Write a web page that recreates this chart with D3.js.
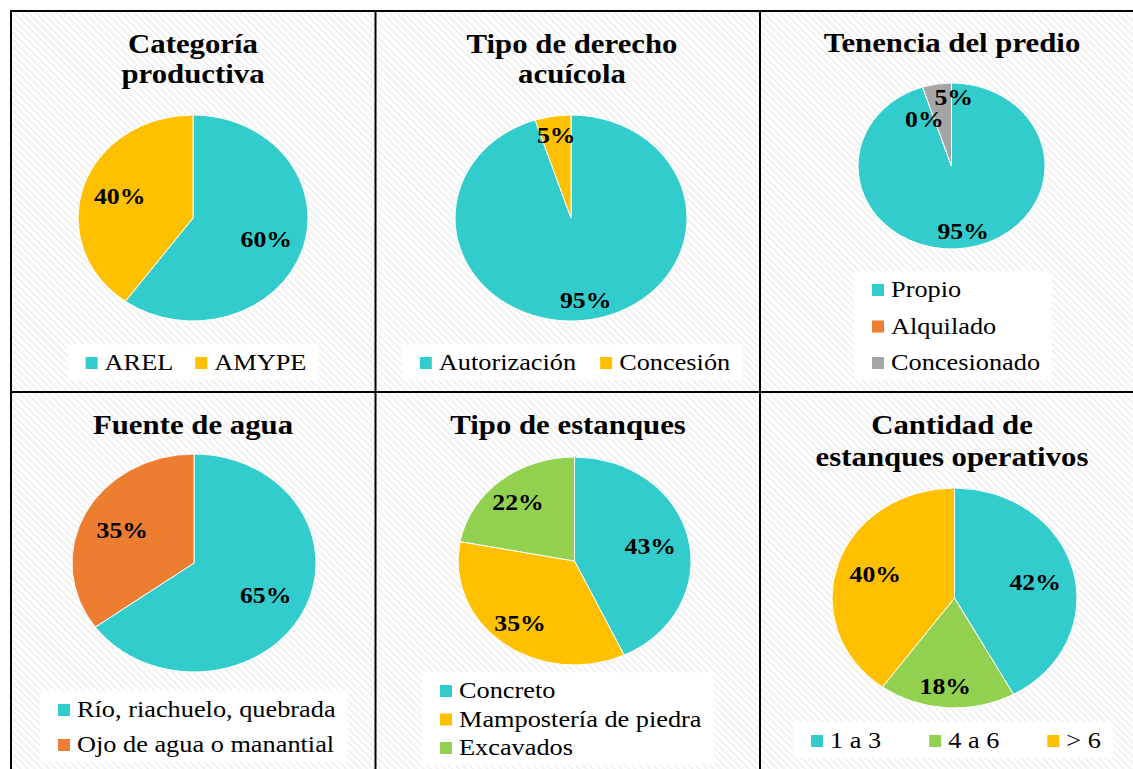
<!DOCTYPE html>
<html>
<head>
<meta charset="utf-8">
<script src="https://cdn.jsdelivr.net/npm/d3@7"></script>
<style>
  body { margin: 0; background: #fff; }
</style>
</head>
<body>
<script>
//chart values
var catLabels = ["AREL", "AMYPE"];
var catValues = [60, 40];
var derLabels = ["Autorización", "Concesión"];
var derValues = [95, 5];
var tenLabels = ["Propio", "Alquilado", "Concesionado"];
var tenValues = [95, 0, 5];
var fueLabels = ["Río, riachuelo, quebrada", "Ojo de agua o manantial"];
var fueValues = [65, 35];
var tipLabels = ["Concreto", "Mampostería de piedra", "Excavados"];
var tipValues = [43, 35, 22];
var canLabels = ["1 a 3", "4 a 6", "> 6"];
var canValues = [42, 18, 40];

//colors
var teal = "#33CCCC", gold = "#FFC000", orange = "#ED7D31", gray = "#A5A5A5", green = "#92D050";

//the picture is a bit wider than tall, so text gets stretched too
var SX = 1.12;
var width = 1133, height = 769;
var FONT = "Liberation Serif";

//layout of each panel
var panels = [
    {title: ["Categoría", "productiva"], tx: 193, ty: [53, 83],
     labels: catLabels, values: catValues, colors: [teal, gold],
     cx: 193, cy: 218, rx: 115, ry: 103, k: 0.67,
     legend: {type: "h", cx: 196, y: 370, gap: 22}},
    {title: ["Tipo de derecho", "acuícola"], tx: 572, ty: [53, 83],
     labels: derLabels, values: derValues, colors: [teal, gold],
     cx: 571, cy: 218, rx: 116, ry: 103, k: 0.81,
     legend: {type: "h", cx: 575, y: 370, gap: 24}},
    {title: ["Tenencia del predio"], tx: 952, ty: [52],
     labels: tenLabels, values: tenValues, colors: [teal, orange, gray],
     cx: 951.5, cy: 166, rx: 93.5, ry: 83, k: 0.8, nudge: [[0, 0], [-4, 17], [14, -3]],
     legend: {type: "v", x: 872, y: 297, step: 36.5}},
    {title: ["Fuente de agua"], tx: 193, ty: [434],
     labels: fueLabels, values: fueValues, colors: [teal, orange],
     cx: 194, cy: 563, rx: 122, ry: 109, k: 0.66,
     legend: {type: "v", x: 58, y: 717, step: 35}},
    {title: ["Tipo de estanques"], tx: 568, ty: [434],
     labels: tipLabels, values: tipValues, colors: [teal, gold, green],
     cx: 574.5, cy: 561, rx: 116.5, ry: 104, k: 0.72, nudge: [[-6, 2], [-3, 3], [-3, -1]],
     legend: {type: "v", x: 440, y: 698, step: 28.5}},
    {title: ["Cantidad de", "estanques operativos"], tx: 952, ty: [434, 466],
     labels: canLabels, values: canValues, colors: [teal, green, gold],
     cx: 954.5, cy: 598, rx: 122.5, ry: 110, k: 0.68, nudge: [[0, 3], [-4, 14], [0, 0]],
     legend: {type: "h", cx: 956, y: 748, gap: 48}}
];

var svg = d3.select("body").append("svg")
    .attr("width", width)
    .attr("height", height);

//faint diagonal hatch behind everything
var defs = svg.append("defs");
defs.append("pattern")
    .attr("id", "hatch")
    .attr("patternUnits", "userSpaceOnUse")
    .attr("width", 5)
    .attr("height", 5)
    .attr("patternTransform", "rotate(-45)")
    .append("rect")
    .attr("width", 2)
    .attr("height", 5)
    .attr("fill", "#f1f1f1");

svg.append("rect").attr("width", width).attr("height", height).attr("fill", "#fff");
svg.append("rect").attr("x", 10).attr("y", 11).attr("width", width).attr("height", height)
    .attr("fill", "url(#hatch)");

//stretched text helper
function txt(g, x, y, s, size, weight, anchor) {
    return g.append("text")
        .attr("transform", "translate(" + x + "," + y + ") scale(" + SX + ",1)")
        .attr("text-anchor", anchor || "start")
        .attr("font-family", FONT)
        .attr("font-size", size)
        .attr("font-weight", weight || "normal")
        .attr("fill", "#000")
        .text(s);
}

var pie = d3.pie().sort(null).value(d => d);
var arc = d3.arc().innerRadius(0).outerRadius(1);

panels.forEach(p => {
    var g = svg.append("g");

    //title
    p.title.forEach((t, i) => {
        txt(g, p.tx, p.ty[i], t, 27.5, "bold", "middle");
    });

    //slices drawn on a unit circle and squashed into the ellipse
    var arcs = pie(p.values);
    g.append("g")
        .attr("transform", "translate(" + p.cx + "," + p.cy + ") scale(" + p.rx + "," + p.ry + ")")
        .selectAll("path")
        .data(arcs)
        .enter().append("path")
        .attr("d", arc)
        .attr("fill", (d, i) => p.colors[i])
        .attr("stroke", "#fff")
        .attr("stroke-width", 1)
        .attr("vector-effect", "non-scaling-stroke");

    //percent labels
    arcs.forEach((d, i) => {
        var a = (d.startAngle + d.endAngle) / 2;
        var n = p.nudge ? p.nudge[i] : [0, 0];
        var x = p.cx + p.k * p.rx * Math.sin(a) + n[0];
        var y = p.cy - p.k * p.ry * Math.cos(a) + n[1];
        txt(g, x, y + 7.5, d.value + "%", 23, "bold", "middle");
    });

    //legend
    var lg = g.append("g");
    var box = lg.append("rect").attr("fill", "#fff");
    var items = lg.append("g");
    var sq = 12, pad = 7;
    if (p.legend.type === "h") {
        var widths = p.labels.map(l => {
            var t = txt(items, 0, 0, l, 23.5);
            var w = t.node().getComputedTextLength() * SX;
            t.remove();
            return w;
        });
        var total = d3.sum(widths) + p.labels.length * (sq + pad) + (p.labels.length - 1) * p.legend.gap;
        var x0 = p.legend.cx - total / 2;
        p.labels.forEach((l, i) => {
            items.append("rect")
                .attr("x", x0).attr("y", p.legend.y - 13)
                .attr("width", sq).attr("height", sq)
                .attr("fill", p.colors[i]);
            txt(items, x0 + sq + pad, p.legend.y, l, 23.5);
            x0 += sq + pad + widths[i] + p.legend.gap;
        });
    } else {
        p.labels.forEach((l, i) => {
            var y = p.legend.y + i * p.legend.step;
            items.append("rect")
                .attr("x", p.legend.x).attr("y", y - 13)
                .attr("width", sq).attr("height", sq)
                .attr("fill", p.colors[i]);
            txt(items, p.legend.x + sq + pad, y, l, 23.5);
        });
    }
    var bb = items.node().getBBox();
    box.attr("x", bb.x - 18).attr("y", bb.y - 5)
        .attr("width", bb.width + 30).attr("height", bb.height + 10);
});

//table lines
var lines = svg.append("g").attr("stroke", "#000").attr("stroke-width", 2).attr("fill", "none");
lines.append("rect").attr("x", 11).attr("y", 11).attr("width", width + 10).attr("height", height);
lines.append("line").attr("x1", 375.5).attr("x2", 375.5).attr("y1", 11).attr("y2", height);
lines.append("line").attr("x1", 760).attr("x2", 760).attr("y1", 11).attr("y2", height);
lines.append("line").attr("x1", 11).attr("x2", width).attr("y1", 392).attr("y2", 392);
</script>
</body>
</html>
